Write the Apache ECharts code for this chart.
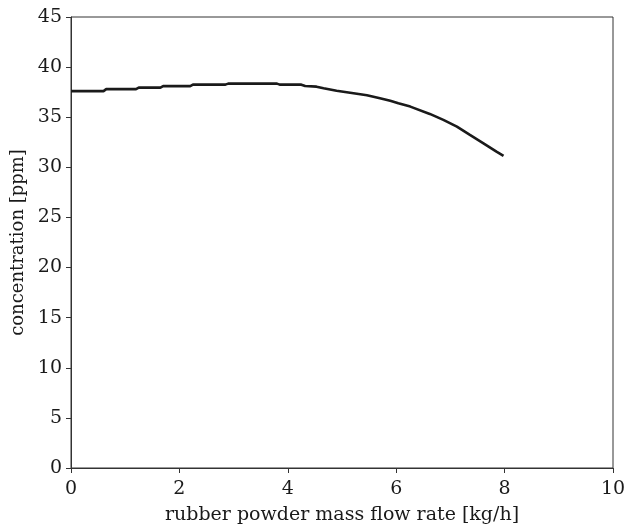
<!DOCTYPE html>
<html><head><meta charset="utf-8">
<script src="https://cdn.jsdelivr.net/npm/echarts@6/dist/echarts.min.js"></script>
<style>html,body{margin:0;padding:0;background:#fff}#c{width:625px;height:529px}</style>
</head><body><div id="c"></div>
<script>
var flowRate = [0,0.6,0.65,1.2,1.25,1.65,1.7,2.2,2.25,2.85,2.9,3.8,3.85,4.25,4.32,4.53,4.66,4.9,5.15,5.46,5.7,5.89,6.04,6.26,6.62,6.87,7.12,7.36,7.61,7.85,7.98];
var concentration = [37.6,37.6,37.8,37.8,37.95,37.95,38.1,38.1,38.25,38.25,38.35,38.35,38.25,38.25,38.12,38.05,37.9,37.65,37.45,37.2,36.9,36.65,36.4,36.06,35.33,34.73,34.06,33.23,32.4,31.57,31.14];
var xTicks = [0,2,4,6,8,10];
var yTicks = [0,5,10,15,20,25,30,35,40,45];

var chart = echarts.init(document.getElementById('c'));
var font = '"DejaVu Serif", "Liberation Serif", serif';
chart.setOption({
  animation: false,
  backgroundColor: '#fff',
  grid: {left: 71, top: 17, right: 12, bottom: 61, outerBoundsMode: 'none', containLabel: false, show: true, borderColor: '#333', borderWidth: 1, backgroundColor: 'transparent'},
  xAxis: {
    type: 'value', min: 0, max: 10, interval: 2,
    name: 'rubber powder mass flow rate [kg/h]', nameLocation: 'middle', nameGap: 38,
    nameTextStyle: {fontFamily: font, fontSize: 19, color: '#1a1a1a'},
    axisLine: {show: true, onZero: false, lineStyle: {color: '#333', width: 1}},
    axisTick: {show: true, inside: false, length: 5, lineStyle: {color: '#333'}},
    axisLabel: {fontFamily: font, fontSize: 19, color: '#1a1a1a', margin: 12},
    splitLine: {show: false}
  },
  yAxis: {
    type: 'value', min: 0, max: 45, interval: 5,
    name: 'concentration [ppm]', nameLocation: 'middle', nameGap: 40,
    nameTextStyle: {fontFamily: font, fontSize: 18, color: '#1a1a1a'},
    axisLine: {show: true, lineStyle: {color: '#333', width: 1}},
    axisTick: {show: true, inside: false, length: 5, lineStyle: {color: '#333'}},
    axisLabel: {fontFamily: font, fontSize: 19, color: '#1a1a1a', margin: 9},
    splitLine: {show: false}
  },
  series: [{
    type: 'line',
    data: flowRate.map(function(x, i){ return [x, concentration[i]]; }),
    showSymbol: false,
    smooth: false,
    lineStyle: {color: '#1a1a1a', width: 2.6}
  }]
});
</script></body></html>
